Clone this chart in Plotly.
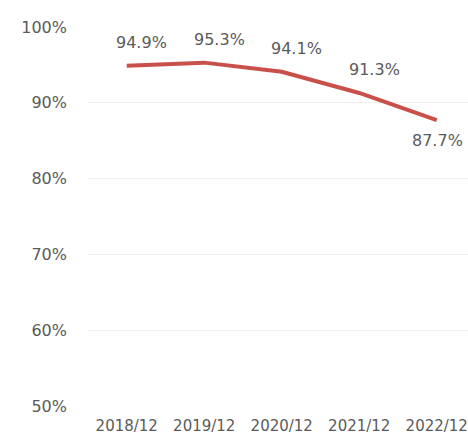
import plotly.graph_objects as go

categories = ["2018/12", "2019/12", "2020/12", "2021/12", "2022/12"]
values = [94.9, 95.3, 94.1, 91.3, 87.7]
y_ticks = [50, 60, 70, 80, 90, 100]
y_tick_labels = ["50%", "60%", "70%", "80%", "90%", "100%"]

TEXT = "#5a5a5a"
FONT = "DejaVu Sans"

fig = go.Figure()
fig.add_trace(go.Scatter(
    x=list(range(len(categories))), y=values, mode="lines",
    line=dict(color="#C9504A", width=4), hoverinfo="skip",
))

annotations = []
for i, v in enumerate(values):
    last = i == len(values) - 1
    annotations.append(dict(
        x=i, y=v, text=f"{v:.1f}%", showarrow=False,
        xshift=1 if last else 15, yshift=-20 if last else 23,
        font=dict(family=FONT, size=16, color=TEXT),
    ))

fig.update_layout(
    width=468, height=436,
    margin=dict(l=88, r=0, t=27, b=30),
    paper_bgcolor="white", plot_bgcolor="white",
    showlegend=False,
    annotations=annotations,
    xaxis=dict(
        tickmode="array", tickvals=list(range(len(categories))), ticktext=categories,
        range=[-0.5, -0.5 + 380 / 77.5],
        showgrid=False, zeroline=False, showline=False, ticks="",
        tickfont=dict(family=FONT, size=15, color=TEXT),
        ticklabelstandoff=9, automargin=False,
    ),
    yaxis=dict(
        tickmode="array", tickvals=y_ticks, ticktext=y_tick_labels,
        range=[50, 100],
        showgrid=True, gridcolor="#EFEFEF", gridwidth=1,
        zeroline=False, showline=False, ticks="",
        tickfont=dict(family=FONT, size=16, color=TEXT),
        ticklabelstandoff=20, automargin=False,
    ),
)

fig.write_html("out.html")
